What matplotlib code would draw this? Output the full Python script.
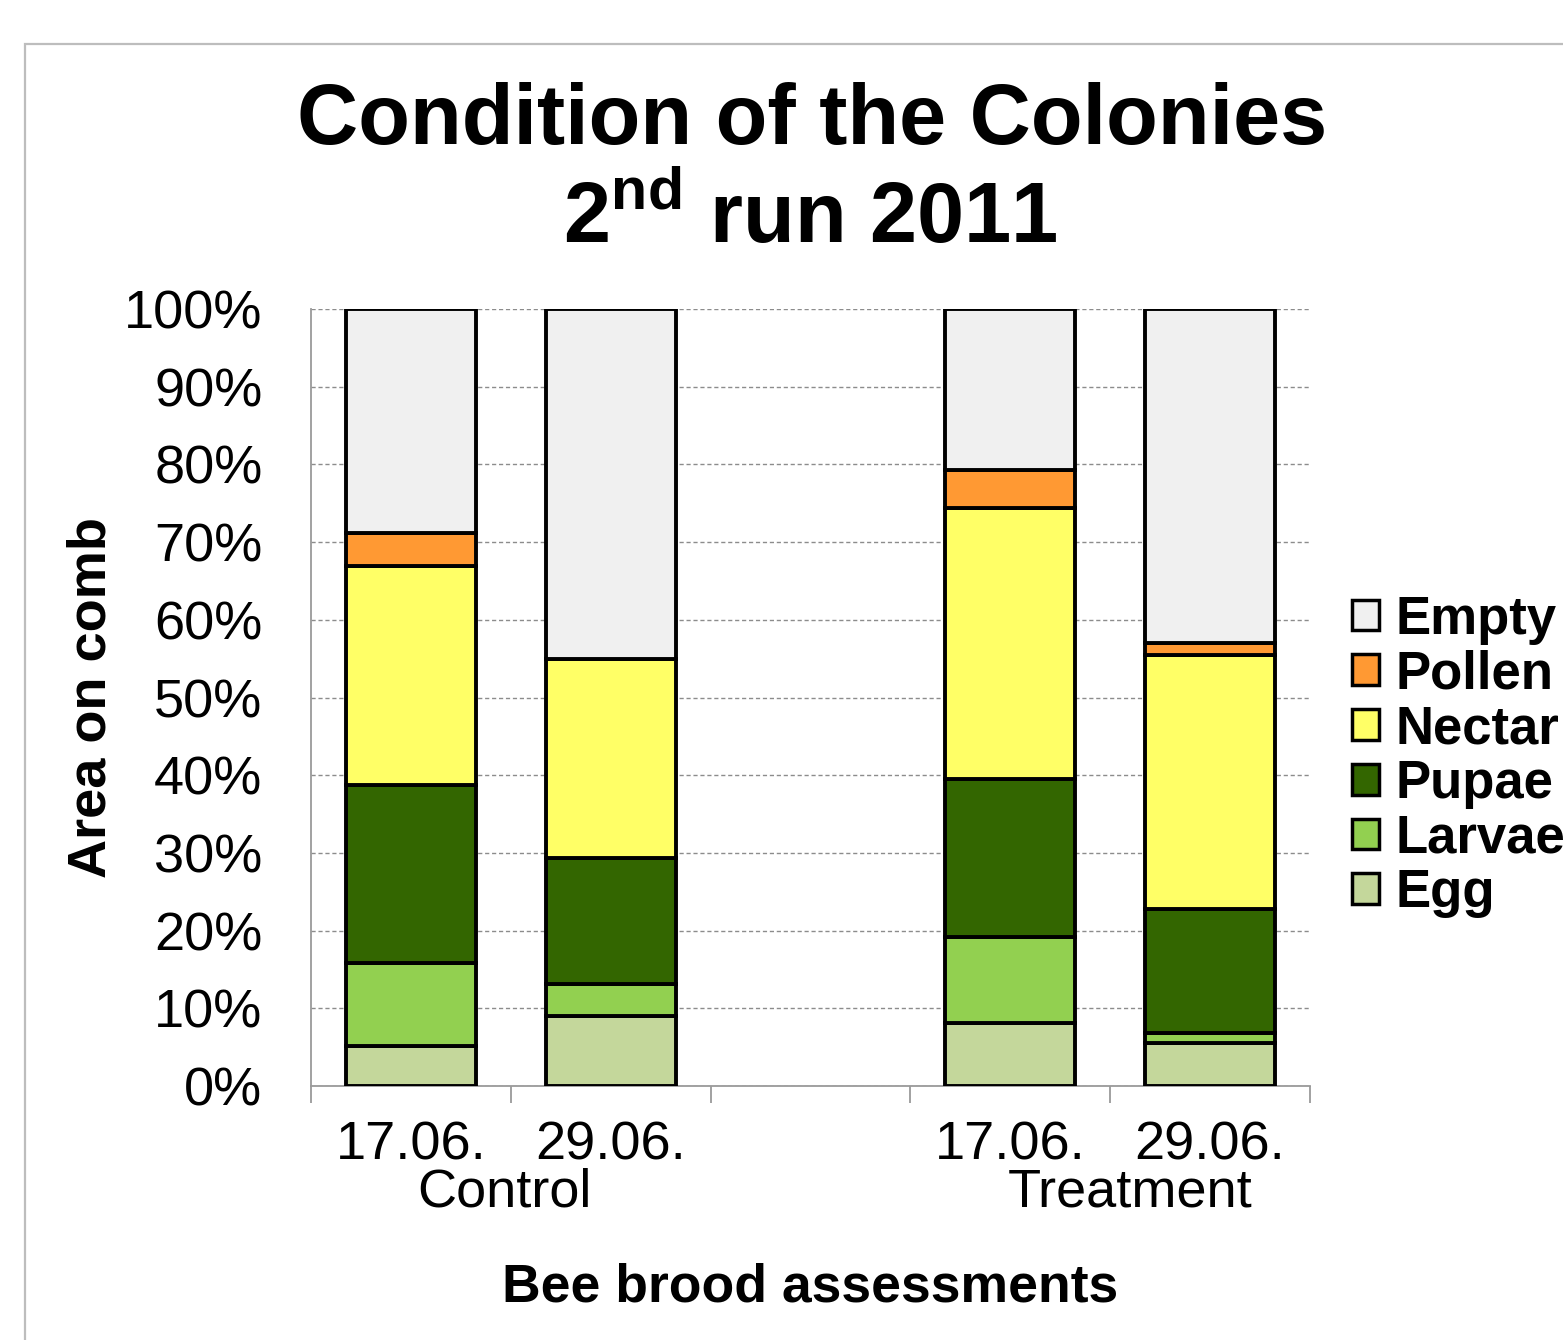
import numpy as np
import matplotlib
matplotlib.use("Agg")
import matplotlib.pyplot as plt
from matplotlib.patches import Patch, Rectangle

plt.rcParams["font.family"] = ["Liberation Sans", "DejaVu Sans"]
plt.rcParams["mathtext.fontset"] = "custom"
plt.rcParams["mathtext.rm"] = "Liberation Sans:bold"
plt.rcParams["mathtext.bf"] = "Liberation Sans:bold"

# bar slots (empty slot separates the two groups)
positions = [0.5, 1.5, 3.5, 4.5]
dates = ["17.06.", "29.06.", "17.06.", "29.06."]
groups = ["Control", "Treatment"]
group_pos = [0.97, 4.1]

categories = ["Egg", "Larvae", "Pupae", "Nectar", "Pollen", "Empty"]
egg = [5.1, 9.0, 8.1, 5.5]
larvae = [10.7, 4.1, 11.1, 1.3]
pupae = [22.9, 16.2, 20.3, 16.0]
nectar = [28.2, 25.7, 34.9, 32.7]
pollen = [4.3, 0.0, 4.9, 1.5]
empty = [28.8, 45.0, 20.7, 43.0]
colors = ["#c4d79b", "#92d050", "#336600", "#ffff66", "#ff9933", "#f0f0f0"]

fig = plt.figure(figsize=(15.63, 13.4), dpi=100)
fig.patches.append(Rectangle((25 / 1563, -0.1), 1.2, 1 - 44 / 1340 + 0.1,
                             transform=fig.transFigure, fill=False,
                             edgecolor="#bdbdbd", linewidth=1.6))
ax = fig.add_axes([311 / 1563, 1 - 1086 / 1340, 999 / 1563, 777 / 1340])

bottom = np.zeros(4)
for name, vals, c in zip(categories, [egg, larvae, pupae, nectar, pollen, empty], colors):
    vals = np.array(vals)
    ax.bar(positions, vals, width=0.65, bottom=bottom, color=c,
           edgecolor="black", linewidth=2.8, zorder=3)
    bottom += vals

ax.set_xlim(0, 5)
ax.set_ylim(0, 100)
ax.set_yticks(np.arange(0, 101, 10))
ax.set_yticklabels([f"{v}%" for v in range(0, 101, 10)], fontsize=39)
ax.tick_params(axis="y", length=0, pad=35)
ax.yaxis.grid(True, linestyle=(0, (3, 2)), color="#8c8c8c", linewidth=1.0, zorder=0)

ax.set_xticks(positions)
ax.set_xticklabels(dates, fontsize=39)
ax.set_xticks(np.arange(0, 6), minor=True)
ax.tick_params(axis="x", which="major", length=0, pad=25)
ax.tick_params(axis="x", which="minor", length=12, width=1.3, color="#9a9a9a")

for s in ["top", "right"]:
    ax.spines[s].set_visible(False)
for s in ["left", "bottom"]:
    ax.spines[s].set_color("#9a9a9a")
    ax.spines[s].set_linewidth(1.3)

for g, x in zip(groups, group_pos):
    ax.text(x, -0.137, g, fontsize=39, ha="center", va="center",
            transform=ax.get_xaxis_transform())

fig.text(92 / 1563, 1 - 697 / 1340, "Area on comb", fontsize=39,
         fontweight="bold", ha="center", va="center", rotation=90)
fig.text(810 / 1563, 1 - 1288 / 1340, "Bee brood assessments", fontsize=38.5,
         fontweight="bold", ha="center", va="center")

fig.text(812 / 1563, 1 - 122 / 1340, "Condition of the Colonies", fontsize=61,
         fontweight="bold", ha="center", va="center")
fig.text(810 / 1563, 1 - 220 / 1340, r"2$^{\mathrm{nd}}$ run 2011", fontsize=61,
         fontweight="bold", ha="center", va="center")

handles = [Patch(facecolor=c, edgecolor="black", linewidth=2.5, label=n)
           for n, c in zip(categories, colors)][::-1]
ax.legend(handles=handles, loc="center left", bbox_to_anchor=(1041 / 999, 0.424),
          frameon=False, prop={"weight": "bold", "size": 38},
          handlelength=0.52, handleheight=0.52, handletextpad=0.3,
          labelspacing=0.09, borderaxespad=0, borderpad=0)

fig.savefig("out.png", dpi=100)
